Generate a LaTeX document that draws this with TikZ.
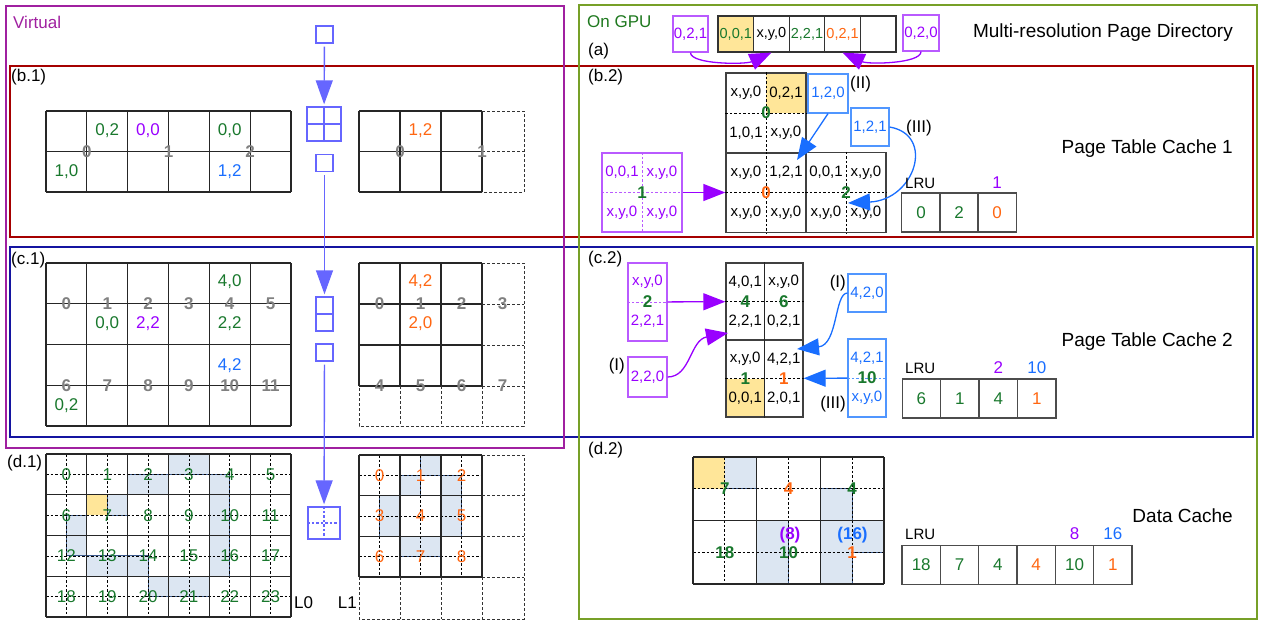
\documentclass[tikz,border=0pt]{standalone}
\usepackage{fontspec}
\setmainfont{Liberation Sans}
\usepackage{tikz}
\usetikzlibrary{arrows.meta,positioning,calc}
\definecolor{virt}{RGB}{160,32,160}
\definecolor{gpuframe}{RGB}{119,160,40}
\definecolor{gputext}{RGB}{30,120,30}
\definecolor{pcred}{RGB}{165,0,0}
\definecolor{pcblue}{RGB}{20,20,160}
\definecolor{tgreen}{RGB}{25,120,45}
\definecolor{torange}{RGB}{255,102,17}
\definecolor{tblue}{RGB}{25,110,255}
\definecolor{tpurple}{RGB}{153,0,255}
\definecolor{boxpurple}{RGB}{185,90,255}
\definecolor{boxblue}{RGB}{80,150,255}
\definecolor{iconblue}{RGB}{102,102,255}
\definecolor{hitfill}{RGB}{255,230,153}
\definecolor{fpfill}{RGB}{220,230,242}
\definecolor{fpline}{RGB}{60,90,140}
\newcommand{\pxs}[1]{\fontsize{#1}{#1}\selectfont}
\tikzset{
  pgframe/.style={line width=1.6pt},
  lbl/.style={font=\pxs{17}, inner sep=0pt},
  ttl/.style={font=\pxs{19}, inner sep=0pt, anchor=east},
  vtxt/.style={font=\pxs{17}, inner sep=0pt},
  ctxt/.style={font=\pxs{15}, inner sep=0pt},
  gnum/.style={font=\pxs{17}\bfseries, text=black!50, inner sep=0pt},
  pnum/.style={font=\pxs{17}\bfseries, inner sep=0pt},
  dnum/.style={font=\pxs{17}, inner sep=0pt},
  gline/.style={draw=black!85, line width=1.3pt},
  hline/.style={draw=black, line width=0.8pt, dash pattern=on 2.5pt off 2pt},
  dline/.style={draw=black!80, line width=0.8pt, dash pattern=on 3pt off 2pt},
  blk/.style={draw=black!75, line width=1.3pt, minimum width=80pt, minimum height=80pt, inner sep=0pt},
  pbox/.style={draw=boxpurple, line width=1.2pt, text=tpurple, font=\pxs{15}, inner sep=0pt},
  bbox/.style={draw=boxblue, line width=1.2pt, text=tblue, font=\pxs{15}, inner sep=0pt},
  pdash/.style={draw=boxpurple, line width=0.9pt, dash pattern=on 2.5pt off 2pt},
  bdash/.style={draw=boxblue, line width=0.9pt, dash pattern=on 2.5pt off 2pt},
  parrow/.style={draw=tpurple, line width=1.3pt, -{Triangle[length=22pt,width=17pt]}},
  barrow/.style={draw=tblue, line width=1.3pt, -{Triangle[length=22pt,width=17pt]}},
  icon/.style={draw=iconblue, line width=1.4pt, inner sep=0pt},
  iconline/.style={draw=iconblue, line width=1.2pt},
  iconarrow/.style={draw=iconblue, line width=1.4pt, -{Triangle[length=24pt,width=17pt]}, shorten <=3pt, shorten >=2pt},
  dircell/.style={draw=black!80, line width=1.2pt, minimum width=35.6pt, minimum height=36pt, inner sep=0pt, font=\pxs{14.5}},
  lrucell/.style={draw=black!70, line width=1.2pt, minimum width=38.3pt, minimum height=39pt, inner sep=0pt, font=\pxs{17}},
  fprint/.style={fill=fpfill, draw=fpline, line width=0.9pt},
}

\begin{document}
\begin{tikzpicture}[x=1pt, y=-1pt]
  \useasboundingbox (0,0) rectangle (1261,621);

  % frames
  \draw[pgframe, draw=pcred] (10,66) rectangle (1253,237);
  \draw[pgframe, draw=pcblue] (10,247) rectangle (1253,437);
  \draw[pgframe, draw=virt] (6,6) rectangle (564,448);
  \draw[pgframe, draw=gpuframe] (579,5) rectangle (1257,619);

  \node[lbl, anchor=west, text=virt] (virtual) at (13,22) {Virtual};
  \node[lbl, anchor=west, text=gputext] (ongpu) at (587,22) {On GPU};
  \node[lbl, anchor=west] (la) at (588,51) {(a)};
  \node[lbl, anchor=west] (lb1) at (11,77) {(b.1)};
  \node[lbl, anchor=west] (lb2) at (588,77) {(b.2)};
  \node[lbl, anchor=west] (lc1) at (11,260) {(c.1)};
  \node[lbl, anchor=west] (lc2) at (588,259) {(c.2)};
  \node[lbl, anchor=west] (ld1) at (7,463) {(d.1)};
  \node[lbl, anchor=west] (ld2) at (588,450) {(d.2)};

  \node[ttl] (tdir) at (1233,33) {Multi-resolution Page Directory};
  \node[ttl] (tpt1) at (1233,149) {Page Table Cache 1};
  \node[ttl] (tpt2) at (1233,342) {Page Table Cache 2};
  \node[ttl] (tdc) at (1233,516) {Data Cache};

  % level icons
  \node[icon, minimum size=17pt] (ic0) at (324.5,34.5) {};
  \node[icon, minimum size=34pt] (ic1) at (324,124) {};
  \draw[iconline] (ic1.north) -- (ic1.south) (ic1.west) -- (ic1.east);
  \node[icon, minimum size=17pt] (ic2) at (324.5,163) {};
  \node[icon, minimum width=17pt, minimum height=34pt] (ic3) at (324.5,314) {};
  \draw[iconline] (ic3.west) -- (ic3.east);
  \node[icon, minimum size=17pt] (ic4) at (324.5,352.5) {};
  \node[icon, minimum size=32pt] (ic5) at (324,523) {};
  \draw[iconline, dash pattern=on 2.5pt off 2pt] (ic5.north) -- (ic5.south) (ic5.west) -- (ic5.east);
  \draw[iconarrow] (ic0) -- (ic1);
  \draw[iconarrow] (ic2) -- (ic3);
  \draw[iconarrow] (ic4) -- (ic5);

  % (b.1)
  \foreach \k in {0,...,6} \draw[gline] ({46+40.83*\k},111) -- ({46+40.83*\k},192);
  \foreach \r in {0,1,2} \draw[gline] (46,{111+40.5*\r}) -- (291,{111+40.5*\r});
  \foreach \n/\px in {0/86.8,1/168.5,2/250.2} \node[gnum] (b1p\n) at (\px,151.5) {\n};
  \node[vtxt, text=tgreen] (b1a) at (107.2,131) {0,2};
  \node[vtxt, text=tpurple] (b1b) at (148,131) {0,0};
  \node[vtxt, text=tgreen] (b1c) at (229.7,131) {0,0};
  \node[vtxt, text=tgreen] (b1d) at (66.4,172) {1,0};
  \node[vtxt, text=tblue] (b1e) at (229.7,172) {1,2};

  \foreach \px in {359,400,441,482} \draw[gline] (\px,111) -- (\px,192);
  \foreach \py in {111,151.5,192} \draw[gline] (359,\py) -- (482,\py);
  \draw[dline] (482,111) -- (524,111) -- (524,192) -- (482,192) (482,151.5) -- (524,151.5);
  \node[gnum] (b1q0) at (400,151.5) {0};
  \node[gnum] (b1q1) at (482,151.5) {1};
  \node[vtxt, text=torange] (b1r) at (420.5,131) {1,2};

  % (c.1)
  \foreach \k in {0,...,6} \draw[gline] ({46+40.83*\k},263) -- ({46+40.83*\k},426);
  \foreach \r in {0,...,4} \draw[gline] (46,{263+40.75*\r}) -- (291,{263+40.75*\r});
  \foreach \n in {0,...,11} {
    \pgfmathtruncatemacro\cc{mod(\n,6)}
    \pgfmathtruncatemacro\rr{div(\n,6)}
    \node[gnum] (c1p\n) at ({66.4+40.83*\cc},{303.75+81.5*\rr}) {\n};
  }
  \node[vtxt, text=tgreen] (c1a) at (229.7,282) {4,0};
  \node[vtxt, text=tgreen] (c1b) at (107.2,324) {0,0};
  \node[vtxt, text=tpurple] (c1c) at (148,324) {2,2};
  \node[vtxt, text=tgreen] (c1d) at (229.7,324) {2,2};
  \node[vtxt, text=tblue] (c1e) at (229.7,366) {4,2};
  \node[vtxt, text=tgreen] (c1f) at (66.4,406) {0,2};

  \foreach \px in {359,400,441,482} \draw[gline] (\px,263) -- (\px,386);
  \foreach \py in {263,304,345,386} \draw[gline] (359,\py) -- (482,\py);
  \draw[dline] (482,263) -- (524,263) -- (524,426) -- (359,426) -- (359,386);
  \draw[dline] (482,304) -- (524,304) (482,345) -- (524,345) (482,386) -- (524,386)
    (400,386) -- (400,426) (441,386) -- (441,426) (482,386) -- (482,426);
  \foreach \n in {0,...,7} {
    \pgfmathtruncatemacro\cc{mod(\n,4)}
    \pgfmathtruncatemacro\rr{div(\n,4)}
    \node[gnum] (c1q\n) at ({379.5+41*\cc},{304+82*\rr}) {\n};
  }
  \node[vtxt, text=torange] (c1r) at (420.5,282) {4,2};
  \node[vtxt, text=torange] (c1s) at (420.5,324) {2,0};

  % (d.1) L0
  \foreach \ia/\ja/\ib/\jb in {6/0/8/1, 4/1/6/2, 3/2/4/3, 1/3/2/5, 2/5/5/6, 5/6/8/7, 8/1/9/6}
    \draw[fprint] ({46+20.417*\ia},{454+20.375*\ja}) rectangle ({46+20.417*\ib},{454+20.375*\jb});
  \fill[hitfill] ({46+20.417*2},{454+20.375*2}) rectangle ({46+20.417*3},{454+20.375*3});
  \foreach \k in {0,...,5} \draw[hline] ({66.4+40.833*\k},454) -- ({66.4+40.833*\k},617);
  \foreach \r in {0,...,3} \draw[hline] (46,{474.4+40.75*\r}) -- (291,{474.4+40.75*\r});
  \foreach \k in {0,...,6} \draw[gline] ({46+40.833*\k},454) -- ({46+40.833*\k},617);
  \foreach \r in {0,...,4} \draw[gline] (46,{454+40.75*\r}) -- (291,{454+40.75*\r});
  \foreach \n in {0,...,23} {
    \pgfmathtruncatemacro\cc{mod(\n,6)}
    \pgfmathtruncatemacro\rr{div(\n,6)}
    \node[dnum, text=tgreen] (d1n\n) at ({66.4+40.833*\cc},{474.4+40.75*\rr}) {\n};
  }
  \node[vtxt, anchor=west] (lzero) at (294,603) {L0};

  % (d.1) L1
  \foreach \ia/\ja/\ib/\jb in {3/0/4/1, 2/1/3/2, 4/1/5/4, 1/2/2/4, 2/4/4/5}
    \draw[fprint] ({359+20.5*\ia},{455+20.35*\ja}) rectangle ({359+20.5*\ib},{455+20.35*\jb});
  \foreach \px in {379.5,420.5,461.5} \draw[hline] (\px,455) -- (\px,577);
  \foreach \py in {475.3,516,556.7} \draw[hline] (359,\py) -- (482,\py);
  \foreach \px in {359,400,441,482} \draw[gline] (\px,455) -- (\px,577);
  \foreach \py in {455,495.7,536.3,577} \draw[gline] (359,\py) -- (482,\py);
  \draw[dline] (482,455) -- (524,455) -- (524,619) -- (359,619) -- (359,577);
  \draw[dline] (482,495.7) -- (524,495.7) (482,536.3) -- (524,536.3) (482,577) -- (524,577)
    (400,577) -- (400,619) (441,577) -- (441,619) (482,577) -- (482,619);
  \foreach \n in {0,...,8} {
    \pgfmathtruncatemacro\cc{mod(\n,3)}
    \pgfmathtruncatemacro\rr{div(\n,3)}
    \node[dnum, text=torange] (d1m\n) at ({379.5+41*\cc},{475.3+40.67*\rr}) {\n};
  }
  \node[vtxt, anchor=east] (lone) at (357,603) {L1};

  % (a) page directory
  \node[dircell, fill=hitfill, text=tgreen] (dir0) at (735.8,34) {0,0,1};
  \node[dircell] (dir1) at (771.4,34) {x,y,0};
  \node[dircell, text=tgreen] (dir2) at (807,34) {2,2,1};
  \node[dircell, text=torange] (dir3) at (842.6,34) {0,2,1};
  \node[dircell] (dir4) at (878.2,34) {};
  \node[pbox, minimum width=35pt, minimum height=36pt] (dirp1) at (690.5,34) {0,2,1};
  \node[pbox, minimum width=36pt, minimum height=36pt] (dirp2) at (921,33) {0,2,0};
  \draw[parrow] (dirp1.south) .. controls +(0,12) and +(-26,12) .. (dir1.south);
  \draw[parrow] (dirp2.south) .. controls +(0,12) and +(26,12) .. (dir3.south);

  % (b.2) page table cache 1
  \fill[hitfill] (766,73) rectangle (806,113);
  \node[blk] (b2z) at (766,113) {};
  \draw[hline] (b2z.north) -- (b2z.south) (b2z.west) -- (b2z.east);
  \node[ctxt] (b2z1) at (746,93) {x,y,0};
  \node[ctxt] (b2z2) at (786,93) {0,2,1};
  \node[ctxt] (b2z3) at (746,133) {1,0,1};
  \node[ctxt] (b2z4) at (786,133) {x,y,0};
  \node[pnum, text=tgreen] (b2zl) at (b2z) {0};

  \node[blk] (b2o) at (766,192.5) {};
  \draw[hline] (b2o.north) -- (b2o.south) (b2o.west) -- (b2o.east);
  \node[ctxt] (b2o1) at (746,172.5) {x,y,0};
  \node[ctxt] (b2o2) at (786,172.5) {1,2,1};
  \node[ctxt] (b2o3) at (746,212.5) {x,y,0};
  \node[ctxt] (b2o4) at (786,212.5) {x,y,0};
  \node[pnum, text=torange] (b2ol) at (b2o) {0};

  \node[blk] (b2g) at (846,192.5) {};
  \draw[hline] (b2g.north) -- (b2g.south) (b2g.west) -- (b2g.east);
  \node[ctxt] (b2g1) at (826,172.5) {0,0,1};
  \node[ctxt] (b2g2) at (866,172.5) {x,y,0};
  \node[ctxt] (b2g3) at (826,212.5) {x,y,0};
  \node[ctxt] (b2g4) at (866,212.5) {x,y,0};
  \node[pnum, text=tgreen] (b2gl) at (b2g) {2};

  \node[pbox, minimum width=80pt, minimum height=79pt] (b2p1) at (642,192.5) {};
  \draw[pdash] (b2p1.north) -- (b2p1.south) (b2p1.west) -- (b2p1.east);
  \node[ctxt, text=tpurple] (b2p1a) at (622,172.5) {0,0,1};
  \node[ctxt, text=tpurple] (b2p1b) at (662,172.5) {x,y,0};
  \node[ctxt, text=tpurple] (b2p1c) at (622,212.5) {x,y,0};
  \node[ctxt, text=tpurple] (b2p1d) at (662,212.5) {x,y,0};
  \node[pnum, text=tgreen] (b2p1l) at (b2p1) {1};
  \draw[parrow] (b2p1) -- (b2o);

  \node[bbox, minimum width=40pt, minimum height=39pt] (b2b120) at (828,93.5) {1,2,0};
  \node[vtxt, anchor=west] (b2ii) at (850,84) {(II)};
  \node[bbox, minimum width=38pt, minimum height=38pt] (b2b121) at (870,127) {1,2,1};
  \node[vtxt, anchor=west] (b2iii) at (906,128) {(III)};
  \coordinate (b2t2) at (797,160);
  \coordinate (b2t3) at (848,203);
  \draw[barrow] (b2b120.south) -- (b2t2);
  \draw[barrow] (b2b121.east) .. controls +(46,8) and +(67,-3) .. (b2t3);

  % LRU of cache 1
  \foreach \v/\col [count=\k from 0] in {0/tgreen,2/tgreen,0/torange}
    \node[lrucell, text=\col] (lrub\k) at ({921+38*\k},212.5) {\v};
  \node[lbl, anchor=west, font=\pxs{15}] (lrubl) at (905,183) {LRU};
  \node[lbl, text=tpurple] (lrubp) at (lrub2 |- lrubl) {1};

  % (c.2) page table cache 2
  \fill[hitfill] (726,378.5) rectangle (764.5,417);
  \node[blk, minimum width=77pt, minimum height=77pt] (c2top) at (764.5,301.5) {};
  \node[blk, minimum width=77pt, minimum height=77pt] (c2bot) at (764.5,378.5) {};
  \draw[gline] (c2top.north) -- (c2bot.south);
  \draw[hline] (c2top.west) -- (c2top.east) (c2bot.west) -- (c2bot.east);
  \node[ctxt] (c2a1) at (745.25,282) {4,0,1};
  \node[ctxt] (c2a2) at (745.25,321) {2,2,1};
  \node[ctxt] (c2a3) at (783.75,282) {x,y,0};
  \node[ctxt] (c2a4) at (783.75,321) {0,2,1};
  \node[ctxt] (c2b1) at (745.25,359) {x,y,0};
  \node[ctxt] (c2b2) at (745.25,398) {0,0,1};
  \node[ctxt] (c2b3) at (783.75,359) {4,2,1};
  \node[ctxt] (c2b4) at (783.75,398) {2,0,1};
  \node[pnum, text=tgreen] (c2l4) at (745.25,301.5) {4};
  \node[pnum, text=tgreen] (c2l6) at (783.75,301.5) {6};
  \node[pnum, text=tgreen] (c2l1) at (745.25,378.5) {1};
  \node[pnum, text=torange] (c2l1o) at (783.75,378.5) {1};

  \node[pbox, minimum width=39pt, minimum height=78pt] (c2p2) at (647.5,302) {};
  \draw[pdash] (c2p2.west) -- (c2p2.east);
  \node[ctxt, text=tpurple] (c2p2a) at (647.5,282) {x,y,0};
  \node[ctxt, text=tpurple] (c2p2b) at (647.5,321) {2,2,1};
  \node[pnum, text=tgreen] (c2p2l) at (c2p2) {2};
  \draw[parrow] (c2p2) -- (c2top);

  \node[pbox, minimum width=39pt, minimum height=40pt] (c2p220) at (647.5,377) {2,2,0};
  \node[vtxt, anchor=east] (c2i1) at (625,366) {(I)};
  \coordinate (c2t1) at (728,333);
  \draw[parrow] (c2p220.east) .. controls +(23,0) and +(-38,7) .. (c2t1);

  \node[bbox, minimum width=38pt, minimum height=38pt] (c2b420) at (867,293) {4,2,0};
  \node[vtxt, anchor=east] (c2i2) at (846,283) {(I)};
  \coordinate (c2t2) at (797,349);
  \draw[barrow] (c2b420.west) .. controls +(-13,0) and +(41,-4) .. (c2t2);

  \node[bbox, minimum width=38pt, minimum height=78pt] (c2b10) at (867,378) {};
  \draw[bdash] (c2b10.west) -- (c2b10.east);
  \node[ctxt, text=tblue] (c2b10a) at (867,358) {4,2,1};
  \node[ctxt, text=tblue] (c2b10b) at (867,398) {x,y,0};
  \node[pnum, text=tgreen] (c2b10l) at (c2b10) {10};
  \node[vtxt, anchor=east] (c2iii) at (846,404) {(III)};
  \draw[barrow] (c2b10) -- (c2bot);

  % LRU of cache 2
  \foreach \v/\col [count=\k from 0] in {6/tgreen,1/tgreen,4/tgreen,1/torange}
    \node[lrucell, text=\col] (lruc\k) at ({921.25+38.5*\k},398.5) {\v};
  \node[lbl, anchor=west, font=\pxs{15}] (lrucl) at (905,368) {LRU};
  \node[lbl, text=tpurple] (lrucp) at (lruc2 |- lrucl) {2};
  \node[lbl, text=tblue] (lrucb) at (lruc3 |- lrucl) {10};

  % (d.2) data cache
  \draw[fprint] ({693+31.83},457) rectangle ({693+2*31.83},{457+31.75});
  \draw[fprint] ({693+4*31.83},{457+31.75}) rectangle ({693+5*31.83},{457+2*31.75});
  \draw[fprint] ({693+2*31.83},{457+2*31.75}) rectangle ({693+3*31.83},584);
  \draw[fprint] ({693+4*31.83},{457+2*31.75}) -- (884,{457+2*31.75}) -- (884,{457+3*31.75})
    -- ({693+5*31.83},{457+3*31.75}) -- ({693+5*31.83},584) -- ({693+4*31.83},584) -- cycle;
  \fill[hitfill] (693,457) rectangle ({693+31.83},{457+31.75});
  \foreach \px in {724.8,788.5,852.2} \draw[hline] (\px,457) -- (\px,584);
  \foreach \py in {488.75,552.25} \draw[hline] (693,\py) -- (884,\py);
  \foreach \px in {693,756.67,820.33,884} \draw[gline] (\px,457) -- (\px,584);
  \foreach \py in {457,520.5,584} \draw[gline] (693,\py) -- (884,\py);
  \node[pnum, text=tgreen] (d2a) at (724.8,489) {7};
  \node[pnum, text=torange] (d2b) at (788.5,489) {4};
  \node[pnum, text=tgreen] (d2c) at (852.2,489) {4};
  \node[pnum, text=tgreen] (d2d) at (724.8,552.5) {18};
  \node[pnum, text=tgreen] (d2e) at (788.5,552.5) {10};
  \node[pnum, text=torange] (d2f) at (852.2,552.5) {1};
  \node[pnum, text=tpurple] (d2g) at (790,535) {(8)};
  \node[pnum, text=tblue] (d2h) at (852.5,535) {(16)};

  % LRU of data cache
  \foreach \v/\col [count=\k from 0] in {18/tgreen,7/tgreen,4/tgreen,4/torange,10/tgreen,1/torange}
    \node[lrucell, text=\col] (lrud\k) at ({921.2+38.33*\k},565) {\v};
  \node[lbl, anchor=west, font=\pxs{15}] (lrudl) at (905,534) {LRU};
  \node[lbl, text=tpurple] (lrudp) at (lrud4 |- lrudl) {8};
  \node[lbl, text=tblue] (lrudb) at (lrud5 |- lrudl) {16};
\end{tikzpicture}
\end{document}
